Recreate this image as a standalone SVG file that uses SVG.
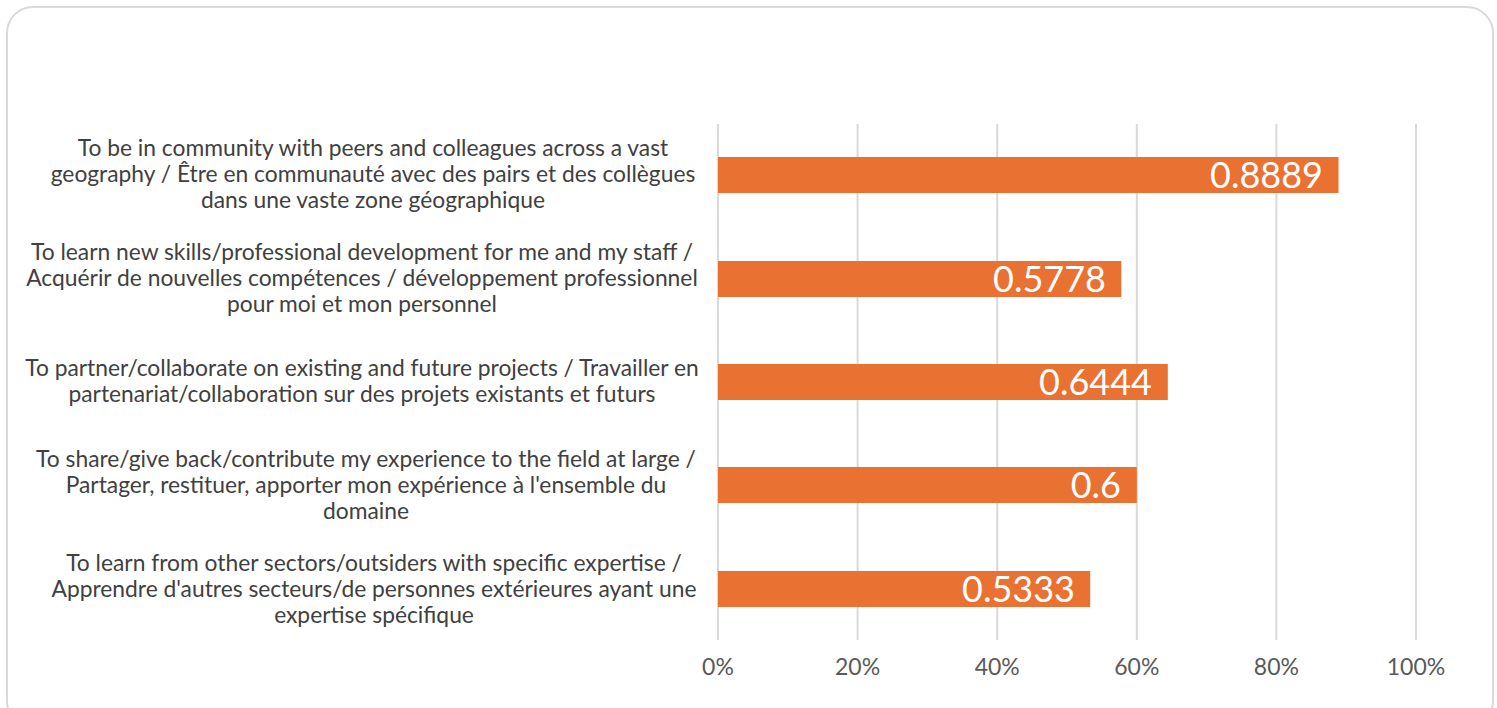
<svg xmlns="http://www.w3.org/2000/svg" width="1497" height="708" viewBox="0 0 1497 708">
<style>
.frame{fill:#fff;stroke:#d9d9d9;stroke-width:2}
.grid{stroke:#d9d9d9;stroke-width:2}
.bar{fill:#e97132}
.lbl{font-family:Lato,"Liberation Sans",sans-serif;font-size:22.8px;fill:#404040;text-anchor:middle}
.val{font-family:Lato,"Liberation Sans",sans-serif;font-size:36px;fill:#fff;text-anchor:end}
.ax{font-family:Lato,"Liberation Sans",sans-serif;font-size:23px;fill:#595959;text-anchor:middle}
</style>
<rect class="frame" x="7" y="7" width="1486" height="720" rx="26"/>
<g id="grid">
<line class="grid" x1="718" y1="124" x2="718" y2="640"/>
<line class="grid" x1="857.6" y1="124" x2="857.6" y2="640"/>
<line class="grid" x1="997.2" y1="124" x2="997.2" y2="640"/>
<line class="grid" x1="1136.8" y1="124" x2="1136.8" y2="640"/>
<line class="grid" x1="1276.4" y1="124" x2="1276.4" y2="640"/>
<line class="grid" x1="1416" y1="124" x2="1416" y2="640"/>
</g>
<g id="axis">
<text class="ax" x="718" y="675">0%</text>
<text class="ax" x="857.6" y="675">20%</text>
<text class="ax" x="997.2" y="675">40%</text>
<text class="ax" x="1136.8" y="675">60%</text>
<text class="ax" x="1276.4" y="675">80%</text>
<text class="ax" x="1416" y="675">100%</text>
</g>
<g id="cat1">
<text class="lbl" x="373" y="156">To be in community with peers and colleagues across a vast</text>
<text class="lbl" x="373" y="182">geography / Être en communauté avec des pairs et des collègues</text>
<text class="lbl" x="373" y="208">dans une vaste zone géographique</text>
<rect class="bar" x="718" y="157" width="620.5" height="36"/>
<text class="val" x="1323" y="188">0.8889</text>
</g>
<g id="cat2">
<text class="lbl" x="362" y="260">To learn new skills/professional development for me and my staff /</text>
<text class="lbl" x="362" y="286">Acquérir de nouvelles compétences / développement professionnel</text>
<text class="lbl" x="362" y="312">pour moi et mon personnel</text>
<rect class="bar" x="718" y="261" width="403.3" height="36"/>
<text class="val" x="1106" y="292">0.5778</text>
</g>
<g id="cat3">
<text class="lbl" x="362" y="376">To partner/collaborate on existing and future projects / Travailler en</text>
<text class="lbl" x="362" y="402">partenariat/collaboration sur des projets existants et futurs</text>
<rect class="bar" x="718" y="364" width="449.8" height="36"/>
<text class="val" x="1152" y="395">0.6444</text>
</g>
<g id="cat4">
<text class="lbl" x="366" y="467">To share/give back/contribute my experience to the field at large /</text>
<text class="lbl" x="366" y="493">Partager, restituer, apporter mon expérience à l'ensemble du</text>
<text class="lbl" x="366" y="519">domaine</text>
<rect class="bar" x="718" y="467" width="418.8" height="36"/>
<text class="val" x="1121" y="498">0.6</text>
</g>
<g id="cat5">
<text class="lbl" x="374" y="571">To learn from other sectors/outsiders with specific expertise /</text>
<text class="lbl" x="374" y="597">Apprendre d'autres secteurs/de personnes extérieures ayant une</text>
<text class="lbl" x="374" y="623">expertise spécifique</text>
<rect class="bar" x="718" y="571" width="372.2" height="36"/>
<text class="val" x="1075" y="602">0.5333</text>
</g>
</svg>
